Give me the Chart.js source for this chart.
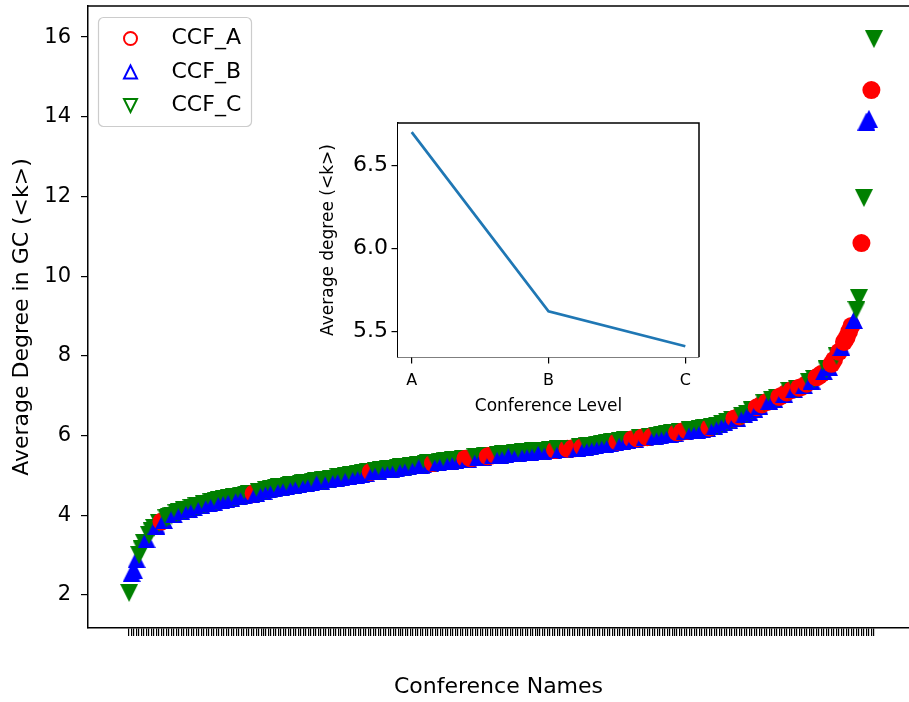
<!DOCTYPE html>
<html>
<head>
<meta charset="utf-8">
<script src="https://cdn.jsdelivr.net/npm/chart.js@4.4.0/dist/chart.umd.min.js"></script>
<style>
  body { margin: 0; background: #fff; }
  #wrap { position: relative; width: 909px; height: 702px; overflow: hidden; }
  #main { position: absolute; left: 0; top: 0; }
  #inset { position: absolute; left: 298px; top: 113px; }
</style>
</head>
<body>
<div id="wrap">
  <canvas id="main" width="909" height="702"></canvas>
  <canvas id="inset" width="410" height="310"></canvas>
</div>
<script>
// average degree per conference, sorted ascending (one per x tick)
const avgDegree = [
  2.05, 2.55, 2.62, 2.90, 3.00, 3.15, 3.30, 3.40, 3.50, 3.60,
  3.68, 3.74, 3.80, 3.84, 3.88, 3.92, 3.96, 3.99, 4.02, 4.05,
  4.07, 4.10, 4.12, 4.14, 4.16, 4.18, 4.20, 4.22, 4.24, 4.26,
  4.27, 4.29, 4.30, 4.32, 4.34, 4.35, 4.37, 4.38, 4.40, 4.41,
  4.42, 4.44, 4.45, 4.46, 4.48, 4.49, 4.50, 4.52, 4.53, 4.54,
  4.55, 4.56, 4.58, 4.59, 4.61, 4.63, 4.65, 4.66, 4.68, 4.69,
  4.70, 4.71, 4.72, 4.73, 4.74, 4.75, 4.76, 4.77, 4.78, 4.79,
  4.80, 4.81, 4.82, 4.83, 4.84, 4.85, 4.86, 4.87, 4.88, 4.89,
  4.90, 4.91, 4.92, 4.94, 4.95, 4.96, 4.97, 4.98, 4.99, 5.00,
  5.01, 5.02, 5.03, 5.04, 5.05, 5.06, 5.08, 5.09, 5.10, 5.11,
  5.12, 5.13, 5.14, 5.15, 5.16, 5.17, 5.17, 5.18, 5.19, 5.20,
  5.21, 5.22, 5.23, 5.23, 5.24, 5.25, 5.26, 5.27, 5.28, 5.29,
  5.30, 5.30, 5.31, 5.32, 5.33, 5.34, 5.35, 5.35, 5.36, 5.37,
  5.38, 5.39, 5.39, 5.40, 5.41, 5.42, 5.42, 5.43, 5.44, 5.45,
  5.45, 5.46, 5.47, 5.48, 5.48, 5.49, 5.50, 5.51, 5.51, 5.52,
  5.53, 5.54, 5.54, 5.55, 5.56, 5.56, 5.57, 5.57, 5.58, 5.58,
  5.59, 5.59, 5.60, 5.60, 5.61, 5.61, 5.62, 5.62, 5.63, 5.63,
  5.64, 5.64, 5.65, 5.65, 5.66, 5.66, 5.67, 5.67, 5.68, 5.68,
  5.69, 5.70, 5.71, 5.72, 5.73, 5.74, 5.75, 5.76, 5.77, 5.78,
  5.79, 5.80, 5.81, 5.82, 5.83, 5.84, 5.85, 5.86, 5.87, 5.88,
  5.89, 5.90, 5.91, 5.92, 5.93, 5.94, 5.95, 5.96, 5.96, 5.97,
  5.98, 5.99, 6.00, 6.01, 6.02, 6.03, 6.04, 6.05, 6.06, 6.07,
  6.08, 6.09, 6.10, 6.11, 6.12, 6.13, 6.13, 6.14, 6.15, 6.16,
  6.17, 6.18, 6.19, 6.20, 6.21, 6.23, 6.25, 6.28, 6.30, 6.33,
  6.35, 6.38, 6.40, 6.43, 6.45, 6.48, 6.50, 6.53, 6.55, 6.59,
  6.63, 6.67, 6.71, 6.75, 6.78, 6.81, 6.84, 6.87, 6.90, 6.92,
  6.95, 6.97, 7.00, 7.04, 7.08, 7.12, 7.14, 7.16, 7.18, 7.20,
  7.22, 7.26, 7.30, 7.34, 7.38, 7.42, 7.46, 7.50, 7.55, 7.61,
  7.66, 7.72, 7.80, 7.90, 8.00, 8.10, 8.22, 8.35, 8.45, 8.60,
  8.75, 8.90, 9.15, 9.45, 10.83, 11.96, 13.88, 13.95, 14.67, 15.95
];

// CCF level of each conference, same order as avgDegree
const ccfLevel = (
  'CBBBCCCBCC' + 'CBCABCCCBC' + 'CBCCBCBCCB' + 'CCBCBCCBCB' + 'CBCCBCBCCB' +
  'ABCCBCBCBC' + 'CBCBCCBCBC' + 'CBCBCCBBCC' + 'BCCBCBCCBC' + 'CBCBCBCABC' +
  'BCCBCBCBCC' + 'BCBCCBCBBC' + 'CBACBCBCCB' + 'CBCBCABAAC' + 'BCBCAABACB' +
  'CBCBBCBCCB' + 'CBCBCBBCBC' + 'BACBCBACAA' + 'BCABCBCBCB' + 'CBCBCBACBC' +
  'BCABACABAC' + 'ABCBCBCBCB' + 'ACABACBCBC' + 'BCBACBCBCB' + 'CBCABACBCB' +
  'CBABACABCB' + 'CAABACABCA' + 'ABACBCAAAB' + 'CBAACABAAA' + 'ABCCACBBAC'
).split('');

const levels = ['A', 'B', 'C'];
const seriesNames = ['CCF_A', 'CCF_B', 'CCF_C'];
const yTicks = [2, 4, 6, 8, 10, 12, 14, 16];

// inset: mean degree by conference level
const levelNames = ['A', 'B', 'C'];
const levelMeans = [6.70, 5.62, 5.41];
const insetTicks = [5.5, 6.0, 6.5];

Chart.defaults.font.family = '"DejaVu Sans", sans-serif';
Chart.defaults.color = '#000';

const colors = { A: '#ff0000', B: '#0000ff', C: '#008000' };
const shapes = { A: 'circle', B: 'up', C: 'down' };

function triangleImage(color, down, size) {
    const c = document.createElement('canvas');
    c.width = size;
    c.height = size;
    const g = c.getContext('2d');
    g.fillStyle = color;
    g.beginPath();
    if (down) {
        g.moveTo(0, 0); g.lineTo(size, 0); g.lineTo(size / 2, size);
    } else {
        g.moveTo(size / 2, 0); g.lineTo(size, size); g.lineTo(0, size);
    }
    g.closePath();
    g.fill();
    return c;
}

const pointStyles = {
    A: 'circle',
    B: triangleImage(colors.B, false, 18),
    C: triangleImage(colors.C, true, 18)
};

function drawMarker(ctx, shape, x, y, r) {
    ctx.beginPath();
    if (shape === 'circle') {
        ctx.arc(x, y, r, 0, Math.PI * 2);
    } else if (shape === 'up') {
        ctx.moveTo(x, y - r); ctx.lineTo(x + r, y + r); ctx.lineTo(x - r, y + r);
        ctx.closePath();
    } else {
        ctx.moveTo(x - r, y - r); ctx.lineTo(x + r, y - r); ctx.lineTo(x, y + r);
        ctx.closePath();
    }
    ctx.stroke();
}

function noPadding(s) {
    s.paddingTop = 0;
    s.paddingBottom = 0;
    s.paddingLeft = 0;
    s.paddingRight = 0;
}

// white face + top/right spines (left and bottom come from the scales)
const framePlugin = {
    id: 'frame',
    beforeDatasetsDraw(chart, args, opts) {
        if (!opts.fill) return;
        const a = chart.chartArea;
        chart.ctx.save();
        chart.ctx.fillStyle = '#fff';
        chart.ctx.fillRect(a.left, a.top, a.right - a.left, a.bottom - a.top);
        chart.ctx.restore();
    },
    afterDraw(chart, args, opts) {
        const a = chart.chartArea;
        const ctx = chart.ctx;
        ctx.save();
        ctx.strokeStyle = '#000';
        ctx.lineWidth = 1.5;
        ctx.beginPath();
        ctx.moveTo(a.left, a.top);
        ctx.lineTo(a.right, a.top);
        if (opts.right) ctx.lineTo(a.right, a.bottom);
        ctx.stroke();
        ctx.restore();
    }
};

const legendPlugin = {
    id: 'boxLegend',
    afterDraw(chart) {
        const ctx = chart.ctx;
        const a = chart.chartArea;
        const x0 = a.left + 10.5, y0 = a.top + 11.5, w = 153, h = 109, rr = 5;
        ctx.save();
        ctx.beginPath();
        ctx.moveTo(x0 + rr, y0);
        ctx.arcTo(x0 + w, y0, x0 + w, y0 + h, rr);
        ctx.arcTo(x0 + w, y0 + h, x0, y0 + h, rr);
        ctx.arcTo(x0, y0 + h, x0, y0, rr);
        ctx.arcTo(x0, y0, x0 + w, y0, rr);
        ctx.closePath();
        ctx.fillStyle = 'rgba(255,255,255,0.8)';
        ctx.fill();
        ctx.strokeStyle = '#cccccc';
        ctx.lineWidth = 1.2;
        ctx.stroke();
        ctx.font = '22px "DejaVu Sans"';
        ctx.textBaseline = 'middle';
        levels.forEach((lv, i) => {
            const cy = y0 + 21 + i * 33.5;
            const cx = x0 + 32;
            ctx.strokeStyle = colors[lv];
            ctx.lineWidth = 2;
            drawMarker(ctx, shapes[lv], cx, cy, 6.5);
            ctx.fillStyle = '#000';
            ctx.fillText(seriesNames[i], x0 + 73, cy);
        });
        ctx.restore();
    }
};

// one dataset so the points are painted in conference order, like the original
new Chart('main', {
    type: 'scatter',
    data: {
        datasets: [{
            label: 'conferences',
            data: avgDegree.map((v, i) => ({ x: i, y: v })),
            pointBackgroundColor: ccfLevel.map(lv => colors[lv]),
            pointBorderWidth: 0,
            pointStyle: ccfLevel.map(lv => pointStyles[lv]),
            pointRadius: 9
        }]
    },
    options: {
        responsive: false,
        animation: false,
        layout: { autoPadding: false, padding: { top: 6, right: 0, left: 0, bottom: 0 } },
        plugins: { legend: { display: false }, tooltip: { enabled: false }, frame: { fill: false, right: false } },
        scales: {
            x: {
                type: 'linear',
                min: -16.5,
                max: 313.1,
                afterBuildTicks: s => { s.ticks = avgDegree.map((v, i) => ({ value: i })); },
                afterFit: s => { s.height = 74; noPadding(s); },
                grid: { drawOnChartArea: false, tickLength: 8, color: '#000', lineWidth: 1.2 },
                border: { color: '#000', width: 1.5 },
                ticks: { display: false },
                title: { display: true, text: 'Conference Names', font: { size: 22 }, padding: { top: 4, bottom: 2 } }
            },
            y: {
                min: 1.17,
                max: 16.78,
                afterBuildTicks: s => { s.ticks = yTicks.map(v => ({ value: v })); },
                afterFit: s => { s.width = 88; noPadding(s); },
                grid: { drawOnChartArea: false, tickLength: 7, color: '#000', lineWidth: 1.2 },
                border: { color: '#000', width: 1.5 },
                ticks: { font: { size: 21 }, padding: 10 },
                title: { display: true, text: 'Average Degree in GC (<k>)', font: { size: 22 }, padding: { top: 9, bottom: 0 } }
            }
        }
    },
    plugins: [framePlugin, legendPlugin]
});

new Chart('inset', {
    type: 'scatter',
    data: {
        datasets: [{
            data: levelMeans.map((v, i) => ({ x: i, y: v })),
            showLine: true,
            borderColor: '#1f77b4',
            borderWidth: 2.7,
            pointRadius: 0,
            tension: 0
        }]
    },
    options: {
        responsive: false,
        animation: false,
        layout: { autoPadding: false, padding: { top: 10, right: 9, left: 0, bottom: 0 } },
        plugins: { legend: { display: false }, tooltip: { enabled: false }, frame: { fill: true, right: true } },
        scales: {
            x: {
                type: 'linear',
                min: -0.1,
                max: 2.1,
                afterBuildTicks: s => { s.ticks = levelNames.map((n, i) => ({ value: i })); },
                afterFit: s => { s.height = 66; noPadding(s); },
                grid: { drawOnChartArea: false, tickLength: 6.5, color: '#000', lineWidth: 1.2 },
                border: { color: '#000', width: 1.5 },
                ticks: { font: { size: 16 }, padding: 8, callback: v => levelNames[v] },
                title: { display: true, text: 'Conference Level', font: { size: 17 }, padding: { top: 2, bottom: 6 } }
            },
            y: {
                min: 5.345,
                max: 6.755,
                afterBuildTicks: s => { s.ticks = insetTicks.map(v => ({ value: v })); },
                afterFit: s => { s.width = 100; noPadding(s); },
                grid: { drawOnChartArea: false, tickLength: 6.5, color: '#000', lineWidth: 1.2 },
                border: { color: '#000', width: 1.5 },
                ticks: { font: { size: 22 }, padding: 3.5, callback: v => v.toFixed(1) },
                title: { display: true, text: 'Average degree (<k>)', font: { size: 17 }, padding: { top: 20, bottom: 0 } }
            }
        }
    },
    plugins: [framePlugin]
});
</script>
</body>
</html>
